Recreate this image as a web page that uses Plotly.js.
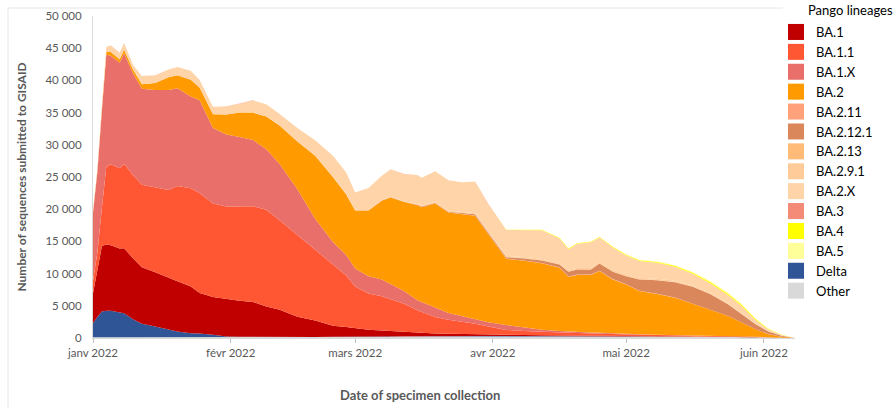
<!DOCTYPE html>
<html>
<head>
<meta charset="utf-8">
<script src="https://cdn.plot.ly/plotly-3.0.1.min.js"></script>
<style>
  html, body { margin: 0; padding: 0; background: #ffffff; }
  #chart { width: 895px; height: 408px; }
</style>
</head>
<body>
<div id="chart"></div>
<script>
// Dates of specimen collection (sampled points)
const dates = [
  '2022-01-01','2022-01-02','2022-01-03','2022-01-04','2022-01-05','2022-01-07','2022-01-08','2022-01-10','2022-01-12','2022-01-15','2022-01-18','2022-01-20','2022-01-23','2022-01-25','2022-01-28','2022-01-31',
  '2022-02-03','2022-02-06','2022-02-09','2022-02-12','2022-02-16','2022-02-20','2022-02-24','2022-02-27',
  '2022-03-01','2022-03-04','2022-03-07','2022-03-09','2022-03-12','2022-03-15','2022-03-16','2022-03-19','2022-03-22','2022-03-25','2022-03-28','2022-03-31',
  '2022-04-04','2022-04-08','2022-04-12','2022-04-16','2022-04-18','2022-04-20','2022-04-23','2022-04-25','2022-04-28',
  '2022-05-01','2022-05-04','2022-05-08','2022-05-12','2022-05-16','2022-05-20','2022-05-24','2022-05-27','2022-05-30',
  '2022-06-02','2022-06-05','2022-06-08'
];

// Sequences per lineage
const other = [100,100,100,100,100,100,100,100,100,100,100,100,120,120,120,150, 150,150,150,150,150,150,180,180, 200,200,200,200,220,220,220,250,250,250,280,280, 300,300,300,300,300,300,300,300,300, 300,300,300,300,280,250,200,180,150, 100,40,0];
const delta = [2180,3200,4000,4140,4140,3850,3730,2800,2100,1680,1150,900,630,580,380,100, 50,30,30,20,20,20,20,20, 20,20,20,20,20,20,20,20,20,20,20,20, 20,20,20,20,20,20,20,20,20, 10,10,10,10,10,10,10,10,5, 2,1,0];
const ba1 = [4660,7260,10180,10260,10160,9950,10120,9470,8800,8420,8050,7800,7250,6300,5850,5800, 5600,5420,4720,4230,3130,2530,1700,1500, 1280,1080,930,830,710,610,560,430,380,330,260,220, 160,130,100,80,60,60,50,40,30, 30,20,10,10,10,10,10,10,5, 3,1,0];
const ba1_1 = [1960,2790,5900,12100,12570,12450,13070,12930,12800,13250,13700,14800,15250,15500,14550,14350, 14600,14850,15000,13900,12700,11000,9500,8000, 6500,5600,5350,4950,4350,3450,3250,2550,2200,1950,1640,1280, 770,650,530,450,420,400,330,290,250, 210,170,130,100,80,60,50,40,30, 15,8,0];
const ba1_x = [10500,12550,15120,17400,16870,16400,17180,15800,14900,15050,15500,15200,14250,14400,11700,11200, 10800,10300,9400,8700,7100,4800,3500,3200, 2800,2700,2600,2400,2000,1550,1500,1500,1050,850,800,650, 750,500,350,250,200,170,150,150,100, 70,80,70,60,50,50,40,30,20, 10,5,0];
const ba2 = [150,200,300,400,560,550,600,600,700,1100,2000,2000,2600,2000,2130,3100, 3800,4250,5100,6000,7400,9800,10100,9400, 9000,10200,12200,13400,13800,14750,14750,16150,15600,15800,16000,13650, 10300,10400,10300,9800,8500,8850,8950,9600,8400, 7680,6720,6330,5770,4870,3920,3090,2130,1190, 470,145,0];
const ba2_11 = [0,0,0,0,0,0,0,0,0,0,0,0,0,0,0,0, 0,0,0,0,0,0,0,0, 0,0,10,10,10,20,20,20,20,30,30,40, 40,50,50,50,50,50,50,50,50, 50,40,40,40,30,30,20,20,10, 10,0,0];
const ba2_12_1 = [0,0,0,0,0,0,0,0,0,0,0,0,0,0,0,0, 0,0,0,0,0,0,0,0, 0,0,40,40,40,80,80,80,80,120,170,210, 210,300,400,450,750,800,750,1100,1150, 1250,1760,2060,2360,2620,2470,1780,1280,790, 390,150,0];
const ba2_13 = [0,0,0,0,0,0,0,0,0,0,0,0,0,0,0,0, 0,0,0,0,0,0,10,10, 20,20,30,30,30,40,40,40,40,50,50,50, 50,60,60,60,60,60,60,60,60, 60,60,50,50,40,40,30,30,20, 10,0,0];
const ba2_9_1 = [0,0,0,0,0,0,0,0,0,0,0,0,0,0,0,0, 0,0,0,0,10,10,20,20, 30,40,50,60,70,80,80,90,100,110,120,130, 150,170,190,200,200,210,220,220,220, 220,210,200,190,170,150,120,100,60, 30,10,0];
const ba2_x = [290,290,490,790,990,990,940,690,1290,1190,1190,1290,1390,1150,1160,1290, 1390,1890,1890,1790,2080,2380,3260,3360, 2745,3435,3765,4255,4195,4475,4375,4765,4755,4685,4925,4255, 4020,4220,4420,3840,3240,3710,3980,3760,3460, 2940,2580,2480,2160,1800,1480,1290,1120,580, 270,110,0];
const ba3 = [10,10,10,10,10,10,10,10,10,10,10,10,10,10,10,10, 10,10,10,10,10,10,10,10, 5,5,5,5,5,5,5,5,5,5,5,5, 0,0,0,0,0,0,0,0,0, 0,0,0,0,0,0,0,0,0, 0,0,0];
const ba4 = [0,0,0,0,0,0,0,0,0,0,0,0,0,0,0,0, 0,0,0,0,0,0,0,0, 0,0,0,0,0,0,0,0,0,0,0,10, 30,50,70,80,80,90,100,110,110, 120,130,140,160,180,200,210,200,160, 100,40,0];
const ba5 = [0,0,0,0,0,0,0,0,0,0,0,0,0,0,0,0, 0,0,0,0,0,0,0,0, 0,0,0,0,0,0,0,0,0,0,0,0, 0,0,10,20,20,30,40,50,50, 60,70,80,90,110,130,150,150,130, 90,40,0];

// Axis ticks
const monthTicks = ['2022-01-01','2022-02-01','2022-03-01','2022-04-01','2022-05-01','2022-06-01'];
const monthLabels = ['janv 2022','févr 2022','mars 2022','avr 2022','mai 2022','juin 2022'];

// Legend order and colours
const legendNames = ['BA.1','BA.1.1','BA.1.X','BA.2','BA.2.11','BA.2.12.1','BA.2.13','BA.2.9.1','BA.2.X','BA.3','BA.4','BA.5','Delta','Other'];
const colors = {
  'BA.1':'#C00000','BA.1.1':'#FF5733','BA.1.X':'#E9706A','BA.2':'#FF9A00','BA.2.11':'#FFA27C',
  'BA.2.12.1':'#DA875B','BA.2.13':'#FFBB77','BA.2.9.1':'#FFCC99','BA.2.X':'#FFD4A8','BA.3':'#F48A78',
  'BA.4':'#FFFF00','BA.5':'#FFFF99','Delta':'#2F5597','Other':'#D9D9D9'
};

// Stacking order, bottom to top
const stack = [
  ['Other', other], ['Delta', delta], ['BA.1', ba1], ['BA.1.1', ba1_1], ['BA.1.X', ba1_x],
  ['BA.2', ba2], ['BA.2.11', ba2_11], ['BA.2.12.1', ba2_12_1], ['BA.2.13', ba2_13], ['BA.2.9.1', ba2_9_1],
  ['BA.2.X', ba2_x], ['BA.3', ba3], ['BA.4', ba4], ['BA.5', ba5]
];

const traces = [];
stack.forEach(([name, vals]) => {
  traces.push({
    type: 'scatter', x: dates, y: vals, name: name,
    stackgroup: 'one', mode: 'lines',
    line: { width: 0, color: colors[name] },
    fillcolor: colors[name],
    showlegend: false, hoverinfo: 'skip'
  });
});
legendNames.forEach(name => {
  traces.push({
    type: 'scatter', x: [null], y: [null], name: name, mode: 'markers',
    marker: { symbol: 'square', size: 16, color: colors[name] },
    showlegend: true, hoverinfo: 'skip'
  });
});

const L = 93, R = 795, T = 16, B = 338;
const px = v => (v - L) / (R - L);
const py = v => (B - v) / (B - T);

const layout = {
  width: 895, height: 408,
  margin: { l: L, r: 895 - R, t: T, b: 408 - B, pad: 0 },
  paper_bgcolor: '#ffffff', plot_bgcolor: '#ffffff',
  font: { family: 'Lato, "Open Sans", sans-serif', color: '#595959', size: 11 },
  separators: ', ',
  hovermode: false,
  showlegend: true,
  xaxis: {
    type: 'date', range: ['2022-01-01', '2022-06-08'],
    tickvals: monthTicks, ticktext: monthLabels,
    ticks: 'outside', ticklen: 4, tickcolor: '#BFBFBF', tickwidth: 1,
    showline: true, linecolor: '#D9D9D9', linewidth: 1,
    showgrid: false, zeroline: false,
    tickfont: { size: 11.5, color: '#595959' }
  },
  yaxis: {
    range: [0, 50000], tick0: 0, dtick: 5000, tickformat: ',d',
    ticks: 'outside', ticklen: 8, tickcolor: 'rgba(0,0,0,0)',
    showline: true, linecolor: '#D9D9D9', linewidth: 1,
    showgrid: false, zeroline: false,
    tickfont: { size: 11.5, color: '#595959' },
    title: { text: '<b>Number of sequences submitted to GISAID</b>', font: { size: 12, color: '#595959' }, standoff: 16 }
  },
  legend: {
    x: px(776), xanchor: 'left', y: py(17), yanchor: 'top',
    traceorder: 'normal', maxheight: 1,
    font: { size: 13, color: '#000000' },
    itemsizing: 'trace', itemwidth: 30,
    bgcolor: 'rgba(0,0,0,0)', borderwidth: 0, tracegroupgap: 0
  },
  annotations: [
    { text: '<b>Date of specimen collection</b>', xref: 'paper', yref: 'paper', x: px(420), y: py(395),
      xanchor: 'center', yanchor: 'middle', showarrow: false, font: { size: 13, color: '#595959' } },
    { text: 'Pango lineages', xref: 'paper', yref: 'paper', x: px(806), y: py(10),
      xanchor: 'left', yanchor: 'middle', showarrow: false, font: { size: 13, color: '#000000' } }
  ],
  shapes: [
    { type: 'line', xref: 'paper', yref: 'paper', x0: px(8), x1: px(783), y0: py(8), y1: py(8), line: { color: '#E6E6E6', width: 1 } },
    { type: 'line', xref: 'paper', yref: 'paper', x0: px(8), x1: px(8), y0: py(8), y1: py(410), line: { color: '#E6E6E6', width: 1 } }
  ]
};

Plotly.newPlot('chart', traces, layout, { displayModeBar: false, staticPlot: true });
</script>
</body>
</html>
